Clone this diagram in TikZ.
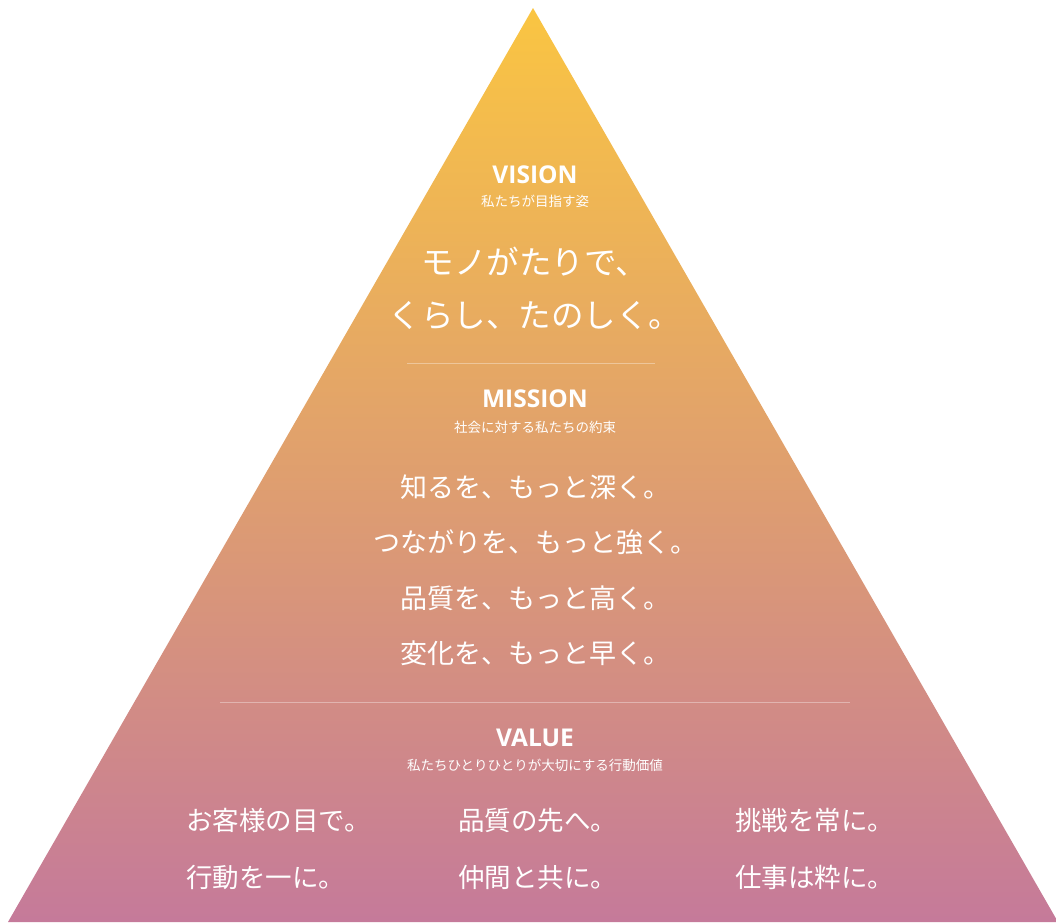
\documentclass[tikz,border=0pt]{standalone}
\usepackage{fontspec}
\setmainfont{Open Sans}
\newfontfamily\jp{Noto Sans CJK JP}
\usetikzlibrary{positioning}

\definecolor{pyrtop}{RGB}{250,197,66}
\definecolor{pyrmid}{RGB}{228,162,118}
\definecolor{pyrbot}{RGB}{197,122,154}

\begin{document}
\begin{tikzpicture}[x=1pt,y=1pt,node distance=55.5pt]
\tikzstyle{head}=[text=white, inner sep=0pt, font=\bfseries\fontsize{24.5}{24.5}\selectfont]
\tikzstyle{sub}=[text=white, inner sep=0pt, font=\jp\fontsize{13.5}{13.5}\selectfont]
\tikzstyle{big}=[text=white, inner sep=0pt, font=\jp\fontsize{32.5}{32.5}\selectfont]
\tikzstyle{mid}=[text=white, inner sep=0pt, font=\jp\fontsize{27}{27}\selectfont]
\tikzstyle{val}=[text=white, inner sep=0pt, anchor=west, font=\jp\fontsize{26.5}{26.5}\selectfont]
\tikzstyle{rule}=[white, opacity=0.35, line width=1pt]
\useasboundingbox (0,0) rectangle (1056,-922);
\shade[top color=pyrtop, middle color=pyrmid, bottom color=pyrbot] (533,-8) -- (1058,-922) -- (8,-922) -- cycle;
% vision
\node[head] (vis) at (535,-175) {VISION};
\node[sub] (vissub) at (535,-201) {私たちが目指す姿};
\node[big] (vis1) at (535,-262) {モノがたりで、};
\node[big] (vis2) at (535,-315) {くらし、たのしく。};
\draw[rule] (407,-363) -- (655,-363);
% mission
\node[head] (mis) at (535,-399) {MISSION};
\node[sub] (missub) at (535,-427) {社会に対する私たちの約束};
\node[mid] (mis1) at (535,-487) {知るを、もっと深く。};
\node[mid, below of=mis1] (mis2) {つながりを、もっと強く。};
\node[mid, below of=mis2] (mis3) {品質を、もっと高く。};
\node[mid, below of=mis3] (mis4) {変化を、もっと早く。};
\draw[rule] (220,-702) -- (850,-702);
% value
\node[head] (val) at (535,-738) {VALUE};
\node[sub] (valsub) at (535,-765) {私たちひとりひとりが大切にする行動価値};
\node[val] (v1) at (186,-820) {お客様の目で。};
\node[val] (v2) at (458,-820) {品質の先へ。};
\node[val] (v3) at (735,-820) {挑戦を常に。};
\node[val] (v4) at (186,-877) {行動を一に。};
\node[val] (v5) at (458,-877) {仲間と共に。};
\node[val] (v6) at (735,-877) {仕事は粋に。};
\end{tikzpicture}
\end{document}
